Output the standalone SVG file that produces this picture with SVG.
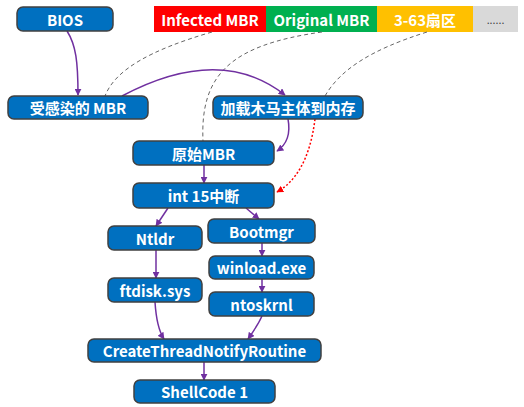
<svg xmlns="http://www.w3.org/2000/svg" width="524" height="407" viewBox="0 0 524 407">
<style>
.box{fill:#0070C0;stroke:#404040;stroke-width:1.5}
.t{font-family:"Noto Sans CJK SC","Noto Sans",sans-serif;font-weight:bold;font-size:15px;fill:#fff;text-anchor:middle;dominant-baseline:central}
.a{fill:none;stroke:#7030A0;stroke-width:1.5;marker-end:url(#ah)}
.d{fill:none;stroke:#666;stroke-width:1;stroke-dasharray:4 3}
</style>
<defs>
<marker id="ah" viewBox="0 0 10 10" refX="9" refY="5" markerWidth="7" markerHeight="7" markerUnits="userSpaceOnUse" orient="auto"><path d="M0,0L10,5L0,10z" fill="#7030A0"/></marker>
<marker id="ahr" viewBox="0 0 10 10" refX="9" refY="5" markerWidth="7" markerHeight="7" markerUnits="userSpaceOnUse" orient="auto"><path d="M0,0L10,5L0,10z" fill="#FF0000"/></marker>
</defs>
<rect width="524" height="407" fill="#fff"/>
<g id="bar">
<rect x="154" y="6" width="112" height="26" fill="#FF0000"/>
<text class="t" x="210" y="19">Infected MBR</text>
<rect x="266" y="6" width="111" height="26" fill="#00B050"/>
<text class="t" x="321.5" y="19">Original MBR</text>
<rect x="377" y="6" width="96" height="26" fill="#FFC000"/>
<text class="t" x="425" y="19">3-63扇区</text>
<rect x="473" y="6" width="45" height="26" fill="#D9D9D9"/>
<text x="495.5" y="19" font-family="Noto Sans, sans-serif" font-size="11" fill="#404040" text-anchor="middle" dominant-baseline="central">......</text>
</g>
<g id="connectors">
<path class="d" d="M212,32 C150,50 115,70 105,96"/>
<path class="d" d="M322,32 C230,45 200,75 203,141"/>
<path class="d" d="M427,32 C370,50 340,70 325,96"/>
<path class="a" d="M67,31 C76,45 78,62 78,95"/>
<path class="a" d="M122,96 Q220,44 285,95"/>
<path class="a" d="M288,119 C291,135 286,145 277,151"/>
<path d="M315,119 C310,160 295,182 277,192" fill="none" stroke="#FF0000" stroke-width="1.5" stroke-dasharray="2 2" marker-end="url(#ahr)"/>
<path class="a" d="M204,165 L204,183"/>
<path class="a" d="M168,208 L156,226"/>
<path class="a" d="M246,208 L259,219"/>
<path class="a" d="M262,243 L262,256"/>
<path class="a" d="M156,250 L156,278"/>
<path class="a" d="M262,279 L262,292"/>
<path class="a" d="M155,302 C156,318 158,330 164,339"/>
<path class="a" d="M262,316 C258,325 253,332 248,339"/>
<path class="a" d="M204,362 L204,380"/>
</g>
<g id="bios"><rect class="box" x="17" y="7" width="96" height="24" rx="6"/><text class="t" x="65" y="19">BIOS</text></g>
<g id="infected"><rect class="box" x="8" y="96" width="140" height="23" rx="6"/><text class="t" x="78" y="107.5">受感染的 MBR</text></g>
<g id="load"><rect class="box" x="213" y="96" width="150" height="23" rx="6"/><text class="t" x="288" y="107.5">加载木马主体到内存</text></g>
<g id="orig"><rect class="box" x="133" y="141" width="141" height="24" rx="6"/><text class="t" x="203.5" y="153">原始MBR</text></g>
<g id="int15"><rect class="box" x="133" y="183" width="141" height="25" rx="6"/><text class="t" x="203.5" y="195.5">int 15中断</text></g>
<g id="ntldr"><rect class="box" x="108" y="226" width="94" height="24" rx="6"/><text class="t" x="155" y="238">Ntldr</text></g>
<g id="bootmgr"><rect class="box" x="208" y="219" width="107" height="24" rx="6"/><text class="t" x="261.5" y="231">Bootmgr</text></g>
<g id="winload"><rect class="box" x="209" y="256" width="105" height="23" rx="6"/><text class="t" x="261.5" y="267.5">winload.exe</text></g>
<g id="ftdisk"><rect class="box" x="108" y="278" width="94" height="24" rx="6"/><text class="t" x="155" y="290">ftdisk.sys</text></g>
<g id="ntoskrnl"><rect class="box" x="209" y="292" width="105" height="24" rx="6"/><text class="t" x="261.5" y="304">ntoskrnl</text></g>
<g id="create"><rect class="box" x="88" y="339" width="233" height="23" rx="6"/><text class="t" x="204.5" y="350.5">CreateThreadNotifyRoutine</text></g>
<g id="shell"><rect class="box" x="134" y="380" width="141" height="23" rx="6"/><text class="t" x="204.5" y="391.5">ShellCode 1</text></g>
</svg>
